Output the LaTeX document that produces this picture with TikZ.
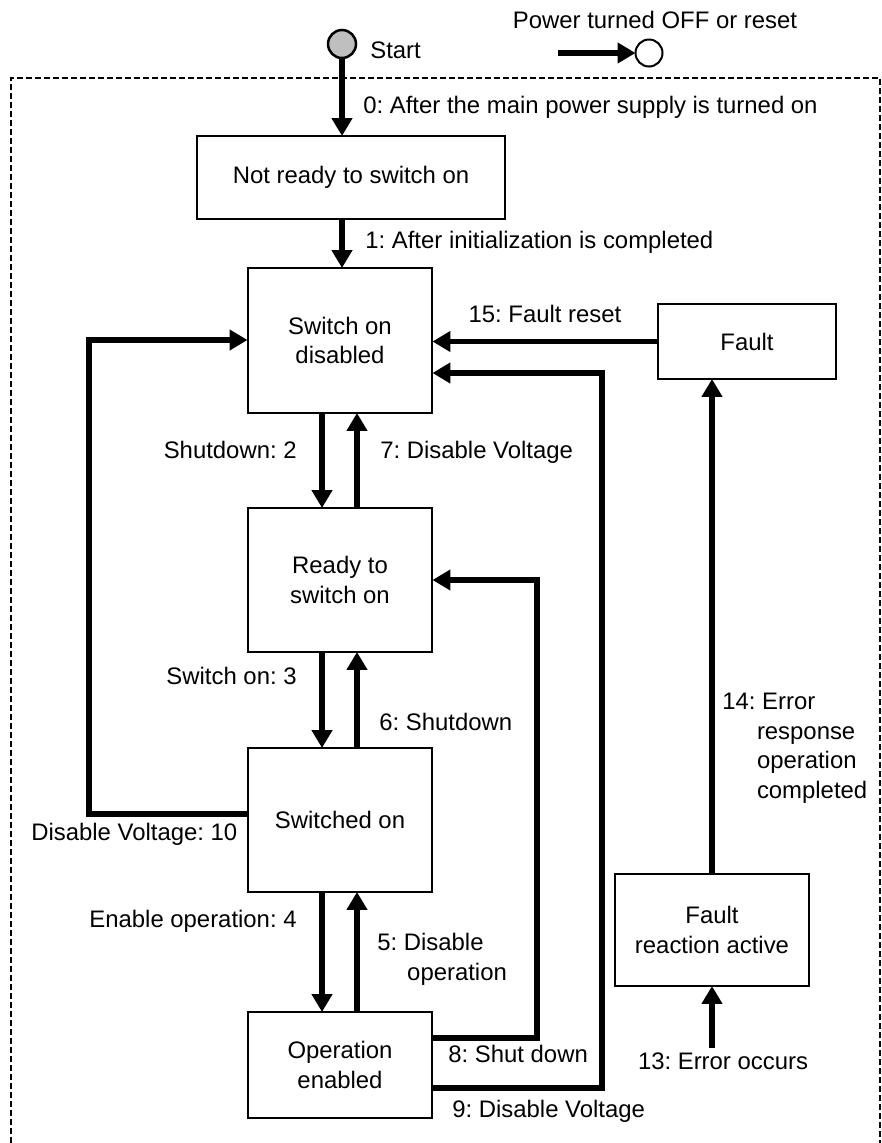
\documentclass[tikz,border=0pt]{standalone}
\usepackage{fontspec}
\setmainfont{Liberation Sans}
\usetikzlibrary{arrows.meta,positioning}
\frenchspacing

\begin{document}
\begin{tikzpicture}[x=0.02cm,y=-0.02cm,
        font=\fontsize{13.6pt}{16.8pt}\selectfont,
        stbox/.style={draw,line width=0.04cm,align=center,inner sep=0pt,outer sep=0pt},
        flow/.style={line width=0.11cm,-{Triangle[length=0.36cm,width=0.4cm]}},
        lbl/.style={inner sep=0pt,text height=1.5ex,text depth=.35ex}
        ]
            \useasboundingbox (0,0) rectangle (882,1143);

            %the dashed frame (open at the bottom)
            \draw[line width=0.05cm,dash pattern=on 0.12cm off 0.06cm] (11,1143) -- (11,78) -- (880,78) -- (880,1143);

            %start and power off marks
            \node[draw,circle,line width=0.05cm,fill=black!25,minimum size=0.56cm,inner sep=0pt,outer sep=0pt] (start) at (342,44) {};
            \node[lbl,anchor=west] (lstart) at (370,53) {Start};
            \node[lbl] (lpwr) at (655,23) {Power turned OFF or reset};
            \node[draw,circle,line width=0.04cm,fill=white,minimum size=0.54cm,inner sep=0pt,outer sep=0pt] (off) at (649,53) {};
            \coordinate (pwr) at (558,53);

            %states
            \node[stbox,minimum width=6.16cm,minimum height=1.66cm] (notready) at (351,177.5) {Not ready to switch on};
            \node[stbox,minimum width=3.7cm,minimum height=2.9cm] (swoff) at (340,340.5) {Switch on\\disabled};
            \node[stbox,minimum width=3.7cm,minimum height=2.88cm] (ready) at (340,580) {Ready to\\switch on};
            \node[stbox,minimum width=3.7cm,minimum height=2.88cm] (swon) at (340,820) {Switched on};
            \node[stbox,minimum width=3.7cm,minimum height=2.12cm] (opena) at (340,1065) {Operation\\enabled};
            \node[stbox,minimum width=3.56cm,minimum height=1.5cm] (fault) at (747,341.5) {Fault};
            \node[stbox,minimum width=3.9cm,minimum height=2.24cm] (freact) at (712,930) {Fault\\reaction active};

            %bends of the long connectors
            \coordinate (turn8) at (537,580);
            \coordinate (turn9) at (602,373);
            \coordinate (turn10) at (89,340);
            \coordinate (err) at (712,1048);

            %transitions
            \draw[flow] (pwr) -- (off);
            \draw[flow] (start) -- (start |- notready.north);
            \draw[flow] (notready.south -| start) -- (start |- swoff.north);
            \draw[flow] ([xshift=-0.36cm]swoff.south) -- ([xshift=-0.36cm]ready.north);
            \draw[flow] ([xshift=0.34cm]ready.north) -- ([xshift=0.34cm]swoff.south);
            \draw[flow] ([xshift=-0.36cm]ready.south) -- ([xshift=-0.36cm]swon.north);
            \draw[flow] ([xshift=0.34cm]swon.north) -- ([xshift=0.34cm]ready.south);
            \draw[flow] ([xshift=-0.36cm]swon.south) -- ([xshift=-0.36cm]opena.north);
            \draw[flow] ([xshift=0.34cm]opena.north) -- ([xshift=0.34cm]swon.south);
            \draw[flow] ([yshift=0.54cm]opena.east) -| (turn8) -- (turn8 -| ready.east);
            \draw[flow] ([yshift=-0.46cm]opena.east) -| (turn9) -- (turn9 -| swoff.east);
            \draw[flow] ([yshift=0.12cm]swon.west) -| (turn10) -- (turn10 -| swoff.west);
            \draw[flow] (err) -- (freact.south);
            \draw[flow] (freact.north) -- (freact.north |- fault.south);
            \draw[flow] (fault.west) -- (fault.west -| swoff.east);

            %transition labels
            \node[lbl,anchor=west] (l0) at (363,108) {0: After the main power supply is turned on};
            \node[lbl,anchor=west] (l1) at (365,243) {1: After initialization is completed};
            \node[lbl,anchor=east] (l2) at (297,453) {Shutdown: 2};
            \node[lbl,anchor=west] (l7) at (380,453) {7: Disable Voltage};
            \node[lbl,anchor=east] (l3) at (297,679) {Switch on: 3};
            \node[lbl,anchor=west] (l6) at (379,725) {6: Shutdown};
            \node[lbl,anchor=west] (l10) at (31,835) {Disable Voltage: 10};
            \node[lbl,anchor=east] (l4) at (297,922) {Enable operation: 4};
            \node[lbl,anchor=west,align=left] (l5) at (377,975) {5: Disable\\\hspace*{1.25em}operation};
            \node[lbl,anchor=west] (l8) at (448,1057) {8: Shut down};
            \node[lbl,anchor=west] (l9) at (452,1112) {9: Disable Voltage};
            \node[lbl] (l15) at (545,317) {15: Fault reset};
            \node[lbl,anchor=west,align=left] (l14) at (722,793) {14: Error\\\hspace*{1.45em}response\\\hspace*{1.45em}operation\\\hspace*{1.45em}completed};
            \node[lbl] (l13) at (723,1064) {13: Error occurs};
        \end{tikzpicture}
\end{document}
